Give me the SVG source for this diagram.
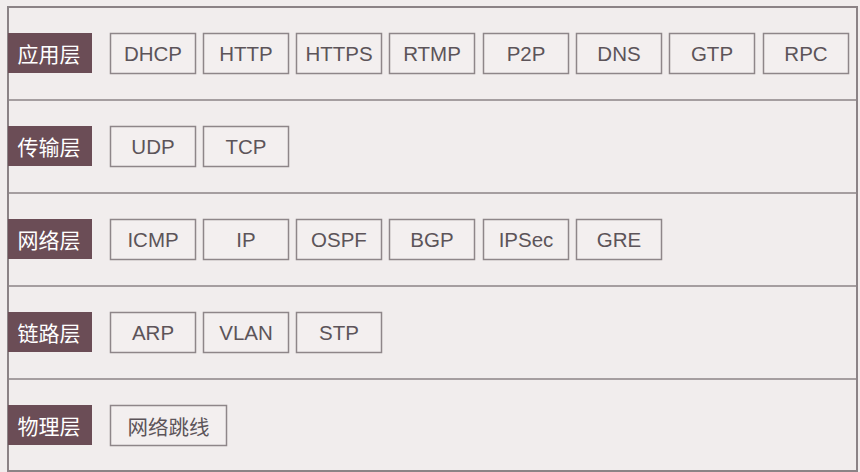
<svg xmlns="http://www.w3.org/2000/svg" width="860" height="472" viewBox="0 0 860 472">
<style>
.bg{fill:#f1eded}
.frame{fill:none;stroke:#8b8386;stroke-width:2}
.div{stroke:#8b8386;stroke-width:1.5}
.lab rect{fill:#6b4d56}
.lab text{fill:#ffffff;font-family:"Noto Sans CJK SC","Liberation Sans",sans-serif;font-size:21px;text-anchor:middle;dominant-baseline:central}
.node rect{fill:#f3efef;stroke:#8e8689;stroke-width:1.5}
.node text{fill:#5c5459;font-family:"Liberation Sans","Noto Sans CJK SC",sans-serif;font-size:20.5px;text-anchor:middle;dominant-baseline:central}
.node text.cjk{font-family:"Noto Sans CJK SC","Liberation Sans",sans-serif;font-size:20.5px}
</style>
<rect class="bg" x="0" y="0" width="860" height="472"/>
<rect class="frame" x="8" y="7" width="849" height="464"/>
<g id="connectors">
<line class="div" x1="8" y1="100" x2="857" y2="100"/>
<line class="div" x1="8" y1="193" x2="857" y2="193"/>
<line class="div" x1="8" y1="286" x2="857" y2="286"/>
<line class="div" x1="8" y1="379" x2="857" y2="379"/>
</g>
<g id="label-app" class="lab"><rect x="8" y="33" width="84" height="40"/><text x="49" y="53">应用层</text></g>
<g id="label-trans" class="lab"><rect x="8" y="126" width="84" height="40"/><text x="49" y="146">传输层</text></g>
<g id="label-net" class="lab"><rect x="8" y="219" width="84" height="40"/><text x="49" y="239">网络层</text></g>
<g id="label-link" class="lab"><rect x="8" y="312" width="84" height="40"/><text x="49" y="332">链路层</text></g>
<g id="label-phy" class="lab"><rect x="8" y="405" width="84" height="40"/><text x="49" y="425">物理层</text></g>

<g id="n-dhcp" class="node"><rect x="110.5" y="33.5" width="85" height="40"/><text x="153" y="53.5">DHCP</text></g>
<g id="n-http" class="node"><rect x="203.5" y="33.5" width="85" height="40"/><text x="246" y="53.5">HTTP</text></g>
<g id="n-https" class="node"><rect x="296.5" y="33.5" width="85" height="40"/><text x="339" y="53.5">HTTPS</text></g>
<g id="n-rtmp" class="node"><rect x="389.5" y="33.5" width="85" height="40"/><text x="432" y="53.5">RTMP</text></g>
<g id="n-p2p" class="node"><rect x="483.5" y="33.5" width="85" height="40"/><text x="526" y="53.5">P2P</text></g>
<g id="n-dns" class="node"><rect x="576.5" y="33.5" width="85" height="40"/><text x="619" y="53.5">DNS</text></g>
<g id="n-gtp" class="node"><rect x="669.5" y="33.5" width="85" height="40"/><text x="712" y="53.5">GTP</text></g>
<g id="n-rpc" class="node"><rect x="763.5" y="33.5" width="85" height="40"/><text x="806" y="53.5">RPC</text></g>

<g id="n-udp" class="node"><rect x="110.5" y="126.5" width="85" height="40"/><text x="153" y="146.5">UDP</text></g>
<g id="n-tcp" class="node"><rect x="203.5" y="126.5" width="85" height="40"/><text x="246" y="146.5">TCP</text></g>

<g id="n-icmp" class="node"><rect x="110.5" y="219.5" width="85" height="40"/><text x="153" y="239.5">ICMP</text></g>
<g id="n-ip" class="node"><rect x="203.5" y="219.5" width="85" height="40"/><text x="246" y="239.5">IP</text></g>
<g id="n-ospf" class="node"><rect x="296.5" y="219.5" width="85" height="40"/><text x="339" y="239.5">OSPF</text></g>
<g id="n-bgp" class="node"><rect x="389.5" y="219.5" width="85" height="40"/><text x="432" y="239.5">BGP</text></g>
<g id="n-ipsec" class="node"><rect x="483.5" y="219.5" width="85" height="40"/><text x="526" y="239.5">IPSec</text></g>
<g id="n-gre" class="node"><rect x="576.5" y="219.5" width="85" height="40"/><text x="619" y="239.5">GRE</text></g>

<g id="n-arp" class="node"><rect x="110.5" y="312.5" width="85" height="40"/><text x="153" y="332.5">ARP</text></g>
<g id="n-vlan" class="node"><rect x="203.5" y="312.5" width="85" height="40"/><text x="246" y="332.5">VLAN</text></g>
<g id="n-stp" class="node"><rect x="296.5" y="312.5" width="85" height="40"/><text x="339" y="332.5">STP</text></g>

<g id="n-cable" class="node"><rect x="110.5" y="405.5" width="116" height="40"/><text class="cjk" x="168.5" y="425.5">网络跳线</text></g>
</svg>
